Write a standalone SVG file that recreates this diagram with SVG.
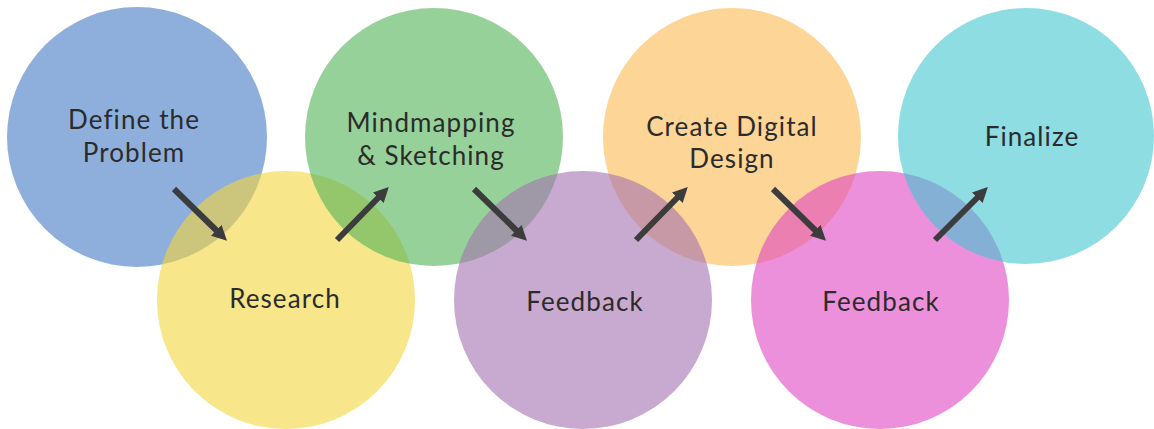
<svg xmlns="http://www.w3.org/2000/svg" width="1154" height="429" viewBox="0 0 1154 429">
<style>
.c{fill-opacity:0.6}
.t{font-family:Lato,"Open Sans","Liberation Sans",sans-serif;font-size:26px;letter-spacing:1.1px;fill:#2b2b2b;text-anchor:middle}
.a{stroke:#3c3c3c;stroke-width:6;fill:none;marker-end:url(#ah)}
</style>
<defs>
<marker id="ah" markerUnits="userSpaceOnUse" viewBox="0 0 15 15" markerWidth="15" markerHeight="15" refX="1" refY="7.5" orient="auto">
<path d="M0,0 L15,7.5 L0,15 z" fill="#3c3c3c"/>
</marker>
</defs>
<rect width="1154" height="429" fill="#ffffff"/>
<g id="n1"><circle class="c" cx="137" cy="137" r="130" fill="#437ac5"/><text class="t" x="134" y="129">Define the</text><text class="t" x="134" y="162">Problem</text></g>
<g id="n2"><circle class="c" cx="286" cy="300" r="129" fill="#f3d53c"/></g>
<g id="n3"><circle class="c" cx="434" cy="137" r="129" fill="#52b257"/></g>
<g id="n5"><circle class="c" cx="732" cy="137" r="129" fill="#fcb950"/></g>
<g id="n4"><circle class="c" cx="583" cy="300" r="129" fill="#a371b1"/></g>
<g id="n6"><circle class="c" cx="880" cy="300" r="129" fill="#df46c5"/></g>
<g id="n7"><circle class="c" cx="1026" cy="136" r="128" fill="#41c6d0"/></g>
<g id="labels">
<text class="t" x="285" y="308">Research</text>
<text class="t" x="431" y="132">Mindmapping</text>
<text class="t" x="431" y="165">&amp; Sketching</text>
<text class="t" x="585" y="311">Feedback</text>
<text class="t" x="732" y="136">Create Digital</text>
<text class="t" x="732" y="168">Design</text>
<text class="t" x="881" y="311">Feedback</text>
<text class="t" x="1032" y="146">Finalize</text>
</g>
<g id="connectors">
<line class="a" x1="174" y1="189" x2="217" y2="231"/>
<line class="a" x1="337" y1="240" x2="379" y2="197"/>
<line class="a" x1="474" y1="189" x2="517" y2="231"/>
<line class="a" x1="636" y1="240" x2="678" y2="197"/>
<line class="a" x1="773" y1="189" x2="816" y2="231"/>
<line class="a" x1="935" y1="240" x2="978" y2="197"/>
</g>
</svg>
